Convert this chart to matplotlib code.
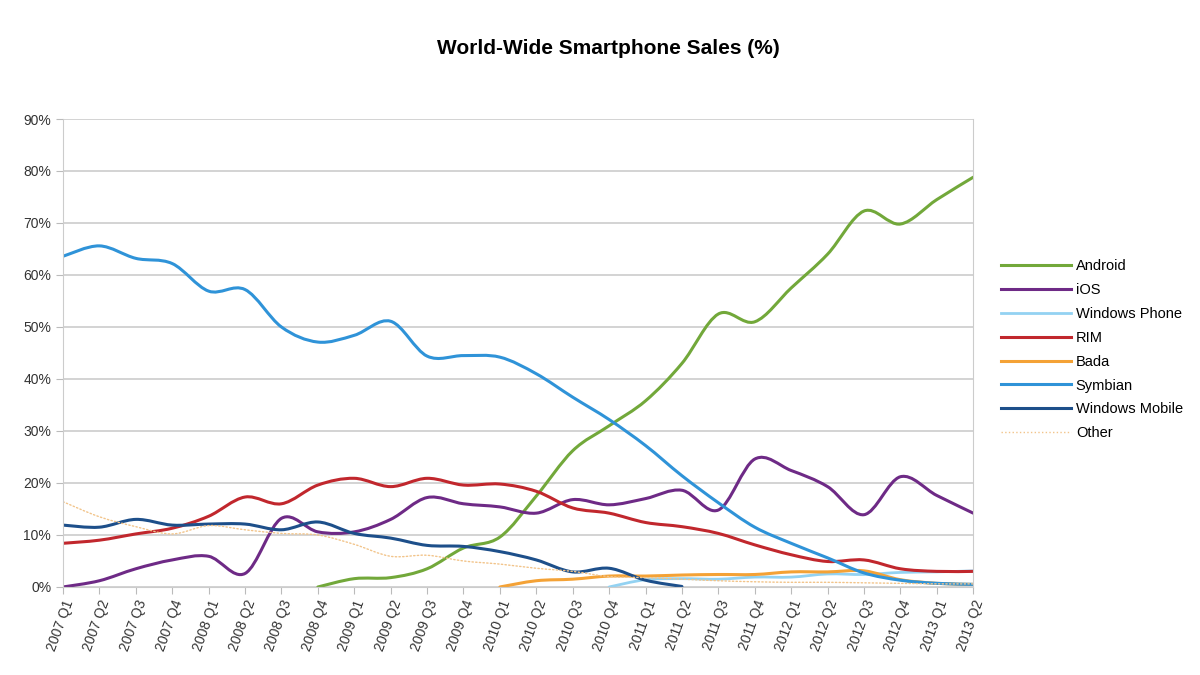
import numpy as np
from matplotlib import pyplot as plt
from matplotlib.path import Path
from matplotlib.patches import PathPatch
from matplotlib.lines import Line2D

plt.rcParams['font.family'] = ['Liberation Sans', 'DejaVu Sans']

quarters = [f'{y} Q{q}' for y in range(2007, 2014) for q in range(1, 5)][:26]

# market share in %, None = not on the market yet / gone
android = [None]*7 + [0, 1.6, 1.8, 3.5, 7.5, 9.6, 17.5, 26.2, 31, 35.8, 43, 52.5, 51,
                      57.5, 64, 72.3, 69.8, 74.5, 78.8]
ios = [0, 1.2, 3.5, 5.2, 5.9, 2.6, 13.2, 10.6, 10.6, 13, 17.2, 16, 15.4, 14.2, 16.8,
       15.8, 17, 18.6, 14.8, 24.6, 22.4, 19.3, 13.9, 21.2, 17.6, 14.2]
win_phone = [None]*15 + [0, 1.4, 1.6, 1.5, 1.9, 1.9, 2.5, 2.4, 2.8, 2.9, 3.1]
rim = [8.4, 9, 10.2, 11.3, 13.6, 17.3, 16, 19.6, 20.9, 19.3, 20.9, 19.6, 19.8, 18.4,
       15.2, 14.2, 12.4, 11.6, 10.3, 8.1, 6.2, 4.9, 5.2, 3.5, 3.0, 3.0]
bada = [None]*12 + [0, 1.2, 1.5, 2.1, 2.1, 2.3, 2.4, 2.4, 2.9, 2.9, 3.1, 1.4, 0.7, 0.5]
symbian = [63.6, 65.6, 63.2, 62.2, 56.9, 57.2, 50, 47.1, 48.4, 51.1, 44.4, 44.5, 44.2,
           41, 36.5, 32.2, 27.2, 21.4, 16.2, 11.5, 8.4, 5.6, 2.7, 1.3, 0.7, 0.5]
win_mobile = [11.9, 11.5, 13, 11.9, 12.1, 12.1, 11, 12.5, 10.3, 9.4, 8, 7.8, 6.8, 5.2,
              2.9, 3.6, 1.3, 0.1] + [None]*8
other = [16.4, 13.5, 11.6, 10.2, 11.8, 11, 10.3, 10, 8.2, 5.9, 6.1, 5, 4.4, 3.6, 3.0,
         2.0, 1.8, 1.5, 1.2, 1.0, 0.9, 0.9, 0.8, 0.7, 0.6, 0.6]

names = ['Android', 'iOS', 'Windows Phone', 'RIM', 'Bada', 'Symbian', 'Windows Mobile', 'Other']
series = [android, ios, win_phone, rim, bada, symbian, win_mobile, other]
colors = ['#72a83a', '#6e2a86', '#93d2f2', '#c1272d', '#f4a236', '#2f93d8', '#1d4f8a', '#f2c48a']
widths = [2.2, 2.2, 2.0, 2.2, 2.2, 2.2, 2.2, 1.0]
styles = ['-', '-', '-', '-', '-', '-', '-', ':']

ytick_vals = list(range(0, 100, 10))
ytick_labels = [f'{v}%' for v in ytick_vals]


def smooth_path(xs, ys):
    # Excel style smoothed line: Catmull-Rom segments as cubic beziers
    pts = np.column_stack([xs, ys]).astype(float)
    verts = [pts[0]]
    codes = [Path.MOVETO]
    n = len(pts)
    for i in range(n - 1):
        p0 = pts[i - 1] if i > 0 else pts[i]
        p1 = pts[i]
        p2 = pts[i + 1]
        p3 = pts[i + 2] if i + 2 < n else pts[i + 1]
        c1 = p1 + (p2 - p0) / 6
        c2 = p2 - (p3 - p1) / 6
        verts += [c1, c2, p2]
        codes += [Path.CURVE4] * 3
    return Path(verts, codes)


fig = plt.figure(figsize=(12, 6.75), dpi=100)
ax = fig.add_axes([0.0525, 0.1304, 0.7585, 0.6933])

x = np.arange(len(quarters))
for vals, c, lw, ls in zip(series, colors, widths, styles):
    idx = [i for i, v in enumerate(vals) if v is not None]
    ys = [vals[i] for i in idx]
    patch = PathPatch(smooth_path(x[idx], ys), facecolor='none', edgecolor=c,
                      lw=lw, linestyle=ls, capstyle='round', joinstyle='round')
    ax.add_patch(patch)

ax.set_xlim(0, len(quarters) - 1)
ax.set_ylim(0, 90)
ax.set_yticks(ytick_vals)
ax.set_yticklabels(ytick_labels, fontsize=10, color='#333333')
ax.set_xticks(x)
ax.set_xticklabels(quarters, rotation=70, ha='right', rotation_mode='anchor',
                   fontsize=10, color='#333333')
ax.grid(axis='y', color='#cccccc', lw=1.2)
ax.set_axisbelow(True)
for s in ['left', 'right', 'bottom', 'top']:
    ax.spines[s].set_color('#cccccc')
ax.spines['top'].set_visible(False)
ax.tick_params(axis='both', color='#bbbbbb', length=5)
ax.tick_params(axis='x', pad=3)

handles = [Line2D([0], [0], color=c, lw=lw if ls == '-' else 1.0, linestyle=ls)
           for c, lw, ls in zip(colors, widths, styles)]
fig.legend(handles, names, loc='center left', bbox_to_anchor=(0.823, 0.482),
           frameon=False, fontsize=10.5, handlelength=4.8, handletextpad=0.35,
           labelspacing=0.68)

fig.text(0.507, 0.928, 'World-Wide Smartphone Sales (%)', ha='center', va='center',
         fontsize=15, fontweight='bold')

fig.savefig('out.png', dpi=100)
